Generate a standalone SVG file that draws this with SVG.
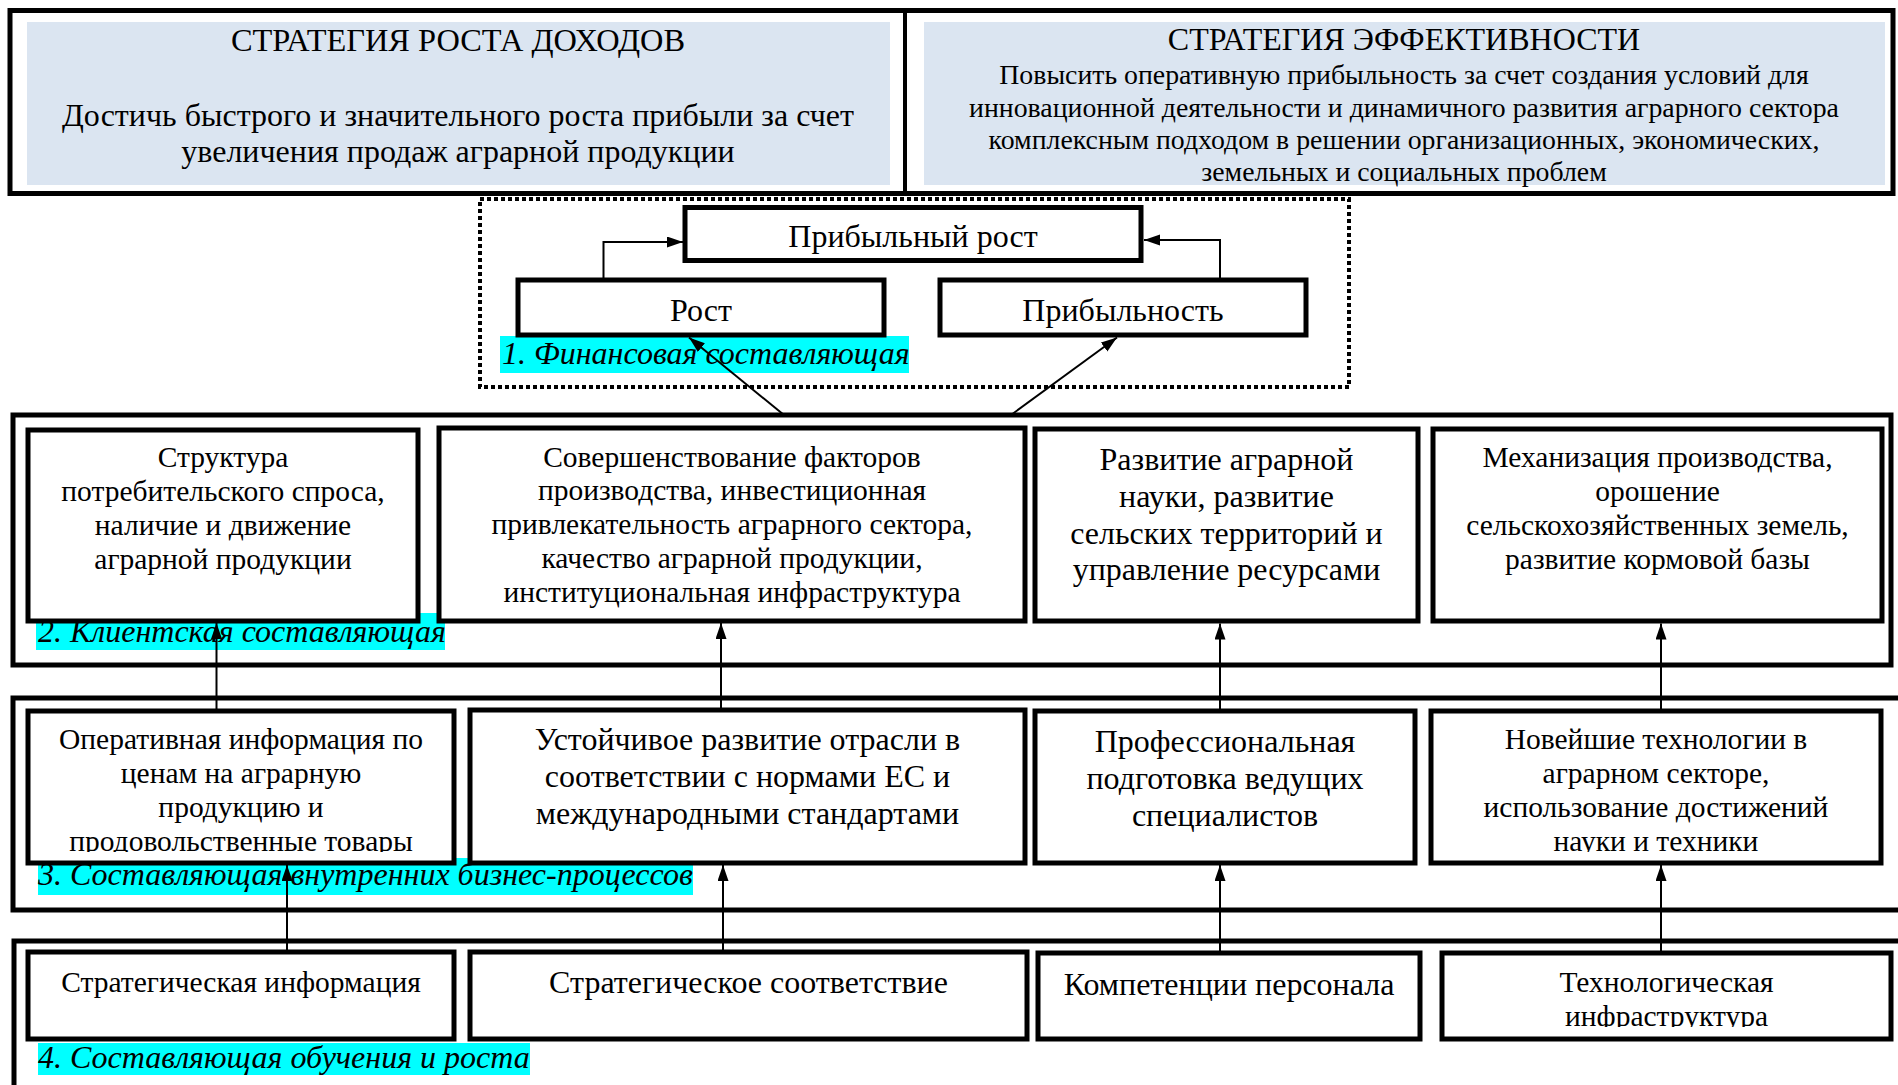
<svg xmlns="http://www.w3.org/2000/svg" width="1898" height="1085" viewBox="0 0 1898 1085">
<style>
.t{font-family:"Liberation Serif","Times New Roman",serif;fill:#000;text-anchor:middle}
.s32{font-size:32px}
.s325{font-size:32.4px}
.s30{font-size:29.5px}
.s28{font-size:27.8px}
.lbl{font-family:"Liberation Serif","Times New Roman",serif;font-style:italic;font-size:32px;fill:#000}
.box{fill:#fff;stroke:#000;stroke-width:5}
.sec{fill:none;stroke:#000;stroke-width:5}
.fill{fill:#dbe5f1}
.cy{fill:#00ffff}
.con{fill:none;stroke:#000;stroke-width:2}
</style>
<defs>
<marker id="ah" markerUnits="userSpaceOnUse" markerWidth="18" markerHeight="12" refX="16" refY="5.5" orient="auto">
<path d="M0,0 L16,5.5 L0,11 z" fill="#000"/>
</marker>
<clipPath id="cE"><rect x="30" y="713" width="422" height="139"/></clipPath>
<clipPath id="cH"><rect x="1433" y="713" width="446" height="139"/></clipPath>
<clipPath id="cL"><rect x="1444" y="955" width="445" height="72"/></clipPath>
</defs>
<rect width="1898" height="1085" fill="#fff"/>

<g id="strategy">
<rect class="fill" x="27" y="22" width="863" height="163"/>
<rect class="fill" x="924" y="22" width="961" height="163"/>
<rect class="sec" x="10" y="10.5" width="1883" height="183"/>
<line x1="905" y1="10" x2="905" y2="193" stroke="#000" stroke-width="4"/>
</g>
<g id="revenue-strategy">
<text class="t s325" x="458" y="51">СТРАТЕГИЯ РОСТА ДОХОДОВ</text>
<text class="t s32" x="458" y="126">Достичь быстрого и значительного роста прибыли за счет</text>
<text class="t s32" x="458" y="162">увеличения продаж аграрной продукции</text>
</g>
<g id="efficiency-strategy">
<text class="t s32" x="1404" y="50">СТРАТЕГИЯ ЭФФЕКТИВНОСТИ</text>
<text class="t s28" x="1404" y="84">Повысить оперативную прибыльность за счет создания условий для</text>
<text class="t s28" x="1404" y="116.5">инновационной деятельности и динамичного развития аграрного сектора</text>
<text class="t s28" x="1404" y="149">комплексным подходом в решении организационных, экономических,</text>
<text class="t s28" x="1404" y="181">земельных и социальных проблем</text>
</g>

<g id="section-financial">
<rect x="480" y="199" width="869" height="188" fill="none" stroke="#000" stroke-width="4" stroke-dasharray="4 3"/>
<rect class="cy" x="500" y="336" width="409" height="37"/>
</g>
<g id="node-profit-growth">
<rect class="box" x="685" y="207.5" width="456" height="53"/>
<text class="t s32" x="913" y="247">Прибыльный рост</text>
</g>
<g id="node-growth">
<rect class="box" x="518" y="280" width="366" height="55"/>
<text class="t s32" x="701" y="321">Рост</text>
</g>
<g id="node-profitability">
<rect class="box" x="940" y="280" width="366" height="55"/>
<text class="t s32" x="1123" y="321">Прибыльность</text>
</g>
<text class="lbl" x="502" y="364">1. Финансовая составляющая</text>

<g id="section-client">
<rect class="sec" x="13" y="415" width="1878" height="250"/>
<rect class="cy" x="36" y="613" width="409" height="37"/>
</g>
<g id="section-process">
<rect class="sec" x="13" y="698" width="1900" height="212"/>
<rect class="cy" x="38" y="858" width="655" height="37"/>
</g>
<g id="section-learning">
<rect class="sec" x="14" y="941" width="1900" height="160"/>
<rect class="cy" x="38" y="1043" width="492" height="32"/>
</g>

<g id="node-a">
<rect class="box" x="28" y="430" width="390" height="191"/>
<text class="t s30" x="223" y="467">Структура</text>
<text class="t s30" x="223" y="501">потребительского спроса,</text>
<text class="t s30" x="223" y="535">наличие и движение</text>
<text class="t s30" x="223" y="569">аграрной продукции</text>
</g>
<g id="node-b">
<rect class="box" x="439" y="428" width="586" height="193"/>
<text class="t s30" x="732" y="466.5">Совершенствование факторов</text>
<text class="t s30" x="732" y="500.4">производства, инвестиционная</text>
<text class="t s30" x="732" y="534.3">привлекательность аграрного сектора,</text>
<text class="t s30" x="732" y="568.2">качество аграрной продукции,</text>
<text class="t s30" x="732" y="602.1">институциональная инфраструктура</text>
</g>
<g id="node-c">
<rect class="box" x="1035" y="429" width="383" height="192"/>
<text class="t s32" x="1226.5" y="470">Развитие аграрной</text>
<text class="t s32" x="1226.5" y="506.8">науки, развитие</text>
<text class="t s32" x="1226.5" y="543.6">сельских территорий и</text>
<text class="t s32" x="1226.5" y="580.4">управление ресурсами</text>
</g>
<g id="node-d">
<rect class="box" x="1433" y="429" width="449" height="192"/>
<text class="t s30" x="1657.5" y="467">Механизация производства,</text>
<text class="t s30" x="1657.5" y="501">орошение</text>
<text class="t s30" x="1657.5" y="535">сельскохозяйственных земель,</text>
<text class="t s30" x="1657.5" y="569">развитие кормовой базы</text>
</g>
<text class="lbl" x="38" y="642">2. Клиентская составляющая</text>

<g id="node-e">
<rect class="box" x="28" y="711" width="426" height="152"/>
<g clip-path="url(#cE)">
<text class="t s30" x="241" y="748.5">Оперативная информация по</text>
<text class="t s30" x="241" y="782.5">ценам на аграрную</text>
<text class="t s30" x="241" y="816.5">продукцию и</text>
<text class="t s30" x="241" y="851">продовольственные товары</text>
</g>
</g>
<g id="node-f">
<rect class="box" x="470" y="710" width="555" height="153"/>
<text class="t s32" x="747.5" y="750">Устойчивое развитие отрасли в</text>
<text class="t s32" x="747.5" y="786.8">соответствии с нормами ЕС и</text>
<text class="t s32" x="747.5" y="824">международными стандартами</text>
</g>
<g id="node-g">
<rect class="box" x="1035" y="711" width="380" height="152"/>
<text class="t s32" x="1225" y="752">Профессиональная</text>
<text class="t s32" x="1225" y="788.8">подготовка ведущих</text>
<text class="t s32" x="1225" y="826">специалистов</text>
</g>
<g id="node-h">
<rect class="box" x="1431" y="711" width="450" height="152"/>
<g clip-path="url(#cH)">
<text class="t s30" x="1656" y="748.5">Новейшие технологии в</text>
<text class="t s30" x="1656" y="782.5">аграрном секторе,</text>
<text class="t s30" x="1656" y="816.5">использование достижений</text>
<text class="t s30" x="1656" y="851">науки и техники</text>
</g>
</g>
<text class="lbl" x="38" y="885">3. Составляющая внутренних бизнес-процессов</text>

<g id="node-i">
<rect class="box" x="28" y="952" width="426" height="87"/>
<text class="t s30" x="241" y="992">Стратегическая информация</text>
</g>
<g id="node-j">
<rect class="box" x="470" y="952" width="557" height="87"/>
<text class="t s32" x="748.5" y="993">Стратегическое соответствие</text>
</g>
<g id="node-k">
<rect class="box" x="1038" y="953" width="382" height="86"/>
<text class="t s32" x="1229" y="995">Компетенции персонала</text>
</g>
<g id="node-l">
<rect class="box" x="1442" y="953" width="449" height="86"/>
<g clip-path="url(#cL)">
<text class="t s30" x="1666.5" y="992">Технологическая</text>
<text class="t s30" x="1666.5" y="1026">инфраструктура</text>
</g>
</g>
<text class="lbl" x="38" y="1068">4. Составляющая обучения и роста</text>

<g id="connectors">
<path class="con" d="M603.5,280 V242 H683" marker-end="url(#ah)"/>
<path class="con" d="M1220,280 V240 H1144" marker-end="url(#ah)"/>
<path class="con" d="M784,415 L689,337.5" marker-end="url(#ah)"/>
<path class="con" d="M1011,415 L1117,337.5" marker-end="url(#ah)"/>
<path class="con" d="M216.5,709 V623" marker-end="url(#ah)"/>
<path class="con" d="M721,708 V623" marker-end="url(#ah)"/>
<path class="con" d="M1220,709 V623.5" marker-end="url(#ah)"/>
<path class="con" d="M1661,709 V623.5" marker-end="url(#ah)"/>
<path class="con" d="M287,950 V865" marker-end="url(#ah)"/>
<path class="con" d="M723,950 V865" marker-end="url(#ah)"/>
<path class="con" d="M1220,951 V865" marker-end="url(#ah)"/>
<path class="con" d="M1661,951 V865" marker-end="url(#ah)"/>
</g>
</svg>
